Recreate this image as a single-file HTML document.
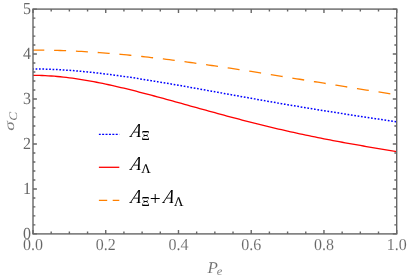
<!DOCTYPE html>
<html><head><meta charset="utf-8"><title>plot</title>
<style>html,body{margin:0;padding:0;background:#fff;}body{width:407px;height:277px;overflow:hidden;font-family:"Liberation Serif",serif;}</style>
</head><body>
<svg width="407" height="277" viewBox="0 0 407 277" style="display:block;will-change:transform;text-rendering:geometricPrecision">
<rect width="407" height="277" fill="#ffffff"/>
<g fill="none" stroke-width="1.3" stroke-linejoin="round">
<path d="M33.00,68.95 L36.03,68.97 L39.06,69.00 L42.09,69.05 L45.12,69.12 L48.15,69.21 L51.19,69.32 L54.22,69.45 L57.25,69.60 L60.28,69.76 L63.31,69.94 L66.34,70.14 L69.37,70.35 L72.40,70.58 L75.43,70.83 L78.46,71.09 L81.49,71.36 L84.52,71.65 L87.56,71.95 L90.59,72.26 L93.62,72.59 L96.65,72.93 L99.68,73.28 L102.71,73.64 L105.74,74.01 L108.77,74.39 L111.80,74.78 L114.83,75.19 L117.86,75.60 L120.89,76.02 L123.92,76.45 L126.96,76.88 L129.99,77.33 L133.02,77.78 L136.05,78.24 L139.08,78.71 L142.11,79.18 L145.14,79.66 L148.17,80.15 L151.20,80.64 L154.23,81.14 L157.26,81.64 L160.29,82.15 L163.33,82.66 L166.36,83.17 L169.39,83.69 L172.42,84.22 L175.45,84.74 L178.48,85.27 L181.51,85.80 L184.54,86.34 L187.57,86.88 L190.60,87.41 L193.63,87.96 L196.66,88.50 L199.70,89.04 L202.73,89.59 L205.76,90.14 L208.79,90.68 L211.82,91.23 L214.85,91.78 L217.88,92.33 L220.91,92.88 L223.94,93.43 L226.97,93.97 L230.00,94.52 L233.03,95.07 L236.07,95.62 L239.10,96.16 L242.13,96.71 L245.16,97.25 L248.19,97.79 L251.22,98.33 L254.25,98.87 L257.28,99.41 L260.31,99.95 L263.34,100.48 L266.37,101.02 L269.40,101.55 L272.44,102.08 L275.47,102.60 L278.50,103.13 L281.53,103.65 L284.56,104.17 L287.59,104.69 L290.62,105.20 L293.65,105.71 L296.68,106.22 L299.71,106.73 L302.74,107.24 L305.77,107.74 L308.81,108.24 L311.84,108.74 L314.87,109.23 L317.90,109.72 L320.93,110.21 L323.96,110.70 L326.99,111.18 L330.02,111.67 L333.05,112.15 L336.08,112.62 L339.11,113.10 L342.14,113.57 L345.18,114.04 L348.21,114.51 L351.24,114.98 L354.27,115.44 L357.30,115.90 L360.33,116.36 L363.36,116.82 L366.39,117.28 L369.42,117.73 L372.45,118.19 L375.48,118.64 L378.51,119.09 L381.55,119.54 L384.58,119.99 L387.61,120.44 L390.64,120.89 L393.67,121.33 L396.70,121.78" stroke="#0000ff" stroke-width="1.5" stroke-dasharray="1.7 1.693" stroke-dashoffset="0.8"/>
<path d="M33.00,75.34 L36.03,75.36 L39.06,75.42 L42.09,75.51 L45.12,75.64 L48.15,75.80 L51.19,76.00 L54.22,76.22 L57.25,76.48 L60.28,76.77 L63.31,77.09 L66.34,77.44 L69.37,77.81 L72.40,78.21 L75.43,78.64 L78.46,79.09 L81.49,79.56 L84.52,80.06 L87.56,80.58 L90.59,81.12 L93.62,81.68 L96.65,82.26 L99.68,82.86 L102.71,83.48 L105.74,84.11 L108.77,84.76 L111.80,85.43 L114.83,86.11 L117.86,86.81 L120.89,87.52 L123.92,88.24 L126.96,88.97 L129.99,89.71 L133.02,90.47 L136.05,91.24 L139.08,92.01 L142.11,92.79 L145.14,93.58 L148.17,94.38 L151.20,95.19 L154.23,96.00 L157.26,96.82 L160.29,97.64 L163.33,98.47 L166.36,99.30 L169.39,100.13 L172.42,100.97 L175.45,101.81 L178.48,102.65 L181.51,103.49 L184.54,104.34 L187.57,105.18 L190.60,106.03 L193.63,106.87 L196.66,107.71 L199.70,108.56 L202.73,109.40 L205.76,110.24 L208.79,111.07 L211.82,111.91 L214.85,112.74 L217.88,113.57 L220.91,114.39 L223.94,115.21 L226.97,116.03 L230.00,116.84 L233.03,117.65 L236.07,118.45 L239.10,119.24 L242.13,120.03 L245.16,120.82 L248.19,121.60 L251.22,122.37 L254.25,123.14 L257.28,123.90 L260.31,124.65 L263.34,125.40 L266.37,126.14 L269.40,126.87 L272.44,127.60 L275.47,128.32 L278.50,129.03 L281.53,129.73 L284.56,130.43 L287.59,131.12 L290.62,131.80 L293.65,132.47 L296.68,133.14 L299.71,133.79 L302.74,134.44 L305.77,135.09 L308.81,135.72 L311.84,136.35 L314.87,136.97 L317.90,137.59 L320.93,138.19 L323.96,138.79 L326.99,139.38 L330.02,139.97 L333.05,140.55 L336.08,141.12 L339.11,141.69 L342.14,142.25 L345.18,142.80 L348.21,143.35 L351.24,143.89 L354.27,144.42 L357.30,144.96 L360.33,145.48 L363.36,146.00 L366.39,146.52 L369.42,147.03 L372.45,147.54 L375.48,148.05 L378.51,148.55 L381.55,149.05 L384.58,149.55 L387.61,150.04 L390.64,150.54 L393.67,151.03 L396.70,151.52" stroke="#ff0000"/>
<path d="M33.00,50.03 L36.03,50.03 L39.06,50.05 L42.09,50.08 L45.12,50.12 L48.15,50.17 L51.19,50.24 L54.22,50.31 L57.25,50.40 L60.28,50.49 L63.31,50.60 L66.34,50.71 L69.37,50.84 L72.40,50.98 L75.43,51.12 L78.46,51.28 L81.49,51.45 L84.52,51.62 L87.56,51.80 L90.59,52.00 L93.62,52.20 L96.65,52.41 L99.68,52.63 L102.71,52.86 L105.74,53.09 L108.77,53.34 L111.80,53.59 L114.83,53.85 L117.86,54.12 L120.89,54.39 L123.92,54.68 L126.96,54.97 L129.99,55.26 L133.02,55.57 L136.05,55.88 L139.08,56.20 L142.11,56.52 L145.14,56.85 L148.17,57.19 L151.20,57.53 L154.23,57.88 L157.26,58.24 L160.29,58.60 L163.33,58.97 L166.36,59.34 L169.39,59.71 L172.42,60.10 L175.45,60.49 L178.48,60.88 L181.51,61.28 L184.54,61.68 L187.57,62.08 L190.60,62.50 L193.63,62.91 L196.66,63.33 L199.70,63.75 L202.73,64.18 L205.76,64.61 L208.79,65.05 L211.82,65.49 L214.85,65.93 L217.88,66.38 L220.91,66.83 L223.94,67.28 L226.97,67.73 L230.00,68.19 L233.03,68.65 L236.07,69.11 L239.10,69.58 L242.13,70.05 L245.16,70.52 L248.19,70.99 L251.22,71.47 L254.25,71.94 L257.28,72.42 L260.31,72.90 L263.34,73.38 L266.37,73.87 L269.40,74.35 L272.44,74.84 L275.47,75.33 L278.50,75.82 L281.53,76.31 L284.56,76.80 L287.59,77.29 L290.62,77.78 L293.65,78.27 L296.68,78.77 L299.71,79.26 L302.74,79.76 L305.77,80.25 L308.81,80.75 L311.84,81.24 L314.87,81.74 L317.90,82.23 L320.93,82.72 L323.96,83.22 L326.99,83.71 L330.02,84.21 L333.05,84.70 L336.08,85.19 L339.11,85.68 L342.14,86.17 L345.18,86.66 L348.21,87.15 L351.24,87.64 L354.27,88.12 L357.30,88.61 L360.33,89.09 L363.36,89.58 L366.39,90.06 L369.42,90.54 L372.45,91.01 L375.48,91.49 L378.51,91.96 L381.55,92.44 L384.58,92.91 L387.61,93.38 L390.64,93.84 L393.67,94.31 L396.70,94.77" stroke="#ff8000" stroke-dasharray="12.0 9.82" stroke-dashoffset="0.7"/>
</g>
<g stroke="#666666" fill="none">
<rect x="33.0" y="9.1" width="363.70" height="224.80" stroke-width="1.4"/>
<path d="M33.00,233.9v-3.9M33.00,9.1v3.9M51.19,233.9v-2.35M51.19,9.1v2.35M69.37,233.9v-2.35M69.37,9.1v2.35M87.56,233.9v-2.35M87.56,9.1v2.35M105.74,233.9v-3.9M105.74,9.1v3.9M123.92,233.9v-2.35M123.92,9.1v2.35M142.11,233.9v-2.35M142.11,9.1v2.35M160.30,233.9v-2.35M160.30,9.1v2.35M178.48,233.9v-3.9M178.48,9.1v3.9M196.66,233.9v-2.35M196.66,9.1v2.35M214.85,233.9v-2.35M214.85,9.1v2.35M233.03,233.9v-2.35M233.03,9.1v2.35M251.22,233.9v-3.9M251.22,9.1v3.9M269.40,233.9v-2.35M269.40,9.1v2.35M287.59,233.9v-2.35M287.59,9.1v2.35M305.77,233.9v-2.35M305.77,9.1v2.35M323.96,233.9v-3.9M323.96,9.1v3.9M342.15,233.9v-2.35M342.15,9.1v2.35M360.33,233.9v-2.35M360.33,9.1v2.35M378.51,233.9v-2.35M378.51,9.1v2.35M396.70,233.9v-3.9M396.70,9.1v3.9M33.0,233.90h3.9M396.7,233.90h-3.9M33.0,224.91h2.35M396.7,224.91h-2.35M33.0,215.92h2.35M396.7,215.92h-2.35M33.0,206.92h2.35M396.7,206.92h-2.35M33.0,197.93h2.35M396.7,197.93h-2.35M33.0,188.94h3.9M396.7,188.94h-3.9M33.0,179.95h2.35M396.7,179.95h-2.35M33.0,170.96h2.35M396.7,170.96h-2.35M33.0,161.96h2.35M396.7,161.96h-2.35M33.0,152.97h2.35M396.7,152.97h-2.35M33.0,143.98h3.9M396.7,143.98h-3.9M33.0,134.99h2.35M396.7,134.99h-2.35M33.0,126.00h2.35M396.7,126.00h-2.35M33.0,117.00h2.35M396.7,117.00h-2.35M33.0,108.01h2.35M396.7,108.01h-2.35M33.0,99.02h3.9M396.7,99.02h-3.9M33.0,90.03h2.35M396.7,90.03h-2.35M33.0,81.04h2.35M396.7,81.04h-2.35M33.0,72.04h2.35M396.7,72.04h-2.35M33.0,63.05h2.35M396.7,63.05h-2.35M33.0,54.06h3.9M396.7,54.06h-3.9M33.0,45.07h2.35M396.7,45.07h-2.35M33.0,36.08h2.35M396.7,36.08h-2.35M33.0,27.08h2.35M396.7,27.08h-2.35M33.0,18.09h2.35M396.7,18.09h-2.35M33.0,9.10h3.9M396.7,9.10h-3.9" stroke-width="1.4"/>
</g>
<g font-family="'Liberation Serif', serif" font-size="16" fill="#666666" stroke="#ffffff" stroke-width="0.1">
<text transform="translate(33.00,249.7) scale(1,1.045)" text-anchor="middle">0.0</text>
<text transform="translate(105.74,249.7) scale(1,1.045)" text-anchor="middle">0.2</text>
<text transform="translate(178.48,249.7) scale(1,1.045)" text-anchor="middle">0.4</text>
<text transform="translate(251.22,249.7) scale(1,1.045)" text-anchor="middle">0.6</text>
<text transform="translate(323.96,249.7) scale(1,1.045)" text-anchor="middle">0.8</text>
<text transform="translate(396.70,249.7) scale(1,1.045)" text-anchor="middle">1.0</text>
<text transform="translate(31.1,239.05) scale(1,1.06)" text-anchor="end" stroke="none">0</text>
<text transform="translate(31.1,194.09) scale(1,1.06)" text-anchor="end" stroke="none">1</text>
<text transform="translate(31.1,149.13) scale(1,1.06)" text-anchor="end" stroke="none">2</text>
<text transform="translate(31.1,104.17) scale(1,1.06)" text-anchor="end" stroke="none">3</text>
<text transform="translate(31.1,59.21) scale(1,1.06)" text-anchor="end" stroke="none">4</text>
<text transform="translate(31.1,14.25) scale(1,1.06)" text-anchor="end" stroke="none">5</text>
</g>
<g font-family="'Liberation Serif', serif" fill="#6c6c6c" stroke="#ffffff" stroke-width="0.1">
<text transform="translate(207.591,272.900) scale(1.0631,1.0213)" font-size="16" font-style="italic">P</text>
<text transform="translate(216.718,275.135) scale(1.0347,0.9790)" font-size="12" font-style="italic">e</text>
<text transform="translate(14.432,130.678) rotate(-90) scale(1.2118,0.8827)" font-size="16" font-style="italic" fill="#747474">σ</text>
<text transform="translate(17.303,120.694) rotate(-90) scale(1.1145,0.9619)" font-size="12" font-style="italic">C</text>
</g>
<g fill="none" stroke-width="1.3">
<path d="M98.9,134.35H119.3" stroke="#0000ff" stroke-width="1.4" stroke-dasharray="2.0 1.393" stroke-dashoffset="0.15"/>
<path d="M98.9,167.3H119.3" stroke="#ff0000"/>
<path d="M98.9,200.4H119.3" stroke="#ff8000" stroke-dasharray="8.3 5.5"/>
</g>
<g font-family="'Liberation Serif', serif" fill="#000000">
<text transform="translate(130.000,136.700) skewX(-11.5) scale(1.0623,1.2308)" font-size="16" font-style="italic">A</text>
<text transform="translate(141.518,140.050) scale(1.0589,1.1327)" font-size="12" stroke="#000000" stroke-width="0.1">Ξ</text>
<text transform="translate(130.000,169.500) skewX(-11.5) scale(1.0623,1.2308)" font-size="16" font-style="italic">A</text>
<text transform="translate(141.373,172.600) scale(1.0814,1.1108)" font-size="12" stroke="#000000" stroke-width="0.1">Λ</text>
<text transform="translate(130.000,203.000) skewX(-11.5) scale(1.0623,1.2308)" font-size="16" font-style="italic">A</text>
<text transform="translate(141.518,206.350) scale(1.0589,1.1327)" font-size="12" stroke="#000000" stroke-width="0.1">Ξ</text>
<text transform="translate(149.837,205.415) scale(1.0179,1.0169)" font-size="19">+</text>
<text transform="translate(162.830,203.000) skewX(-11.5) scale(1.0623,1.2308)" font-size="16" font-style="italic">A</text>
<text transform="translate(174.073,206.100) scale(1.0814,1.1108)" font-size="12" stroke="#000000" stroke-width="0.1">Λ</text>
</g>
</svg>
</body></html>
